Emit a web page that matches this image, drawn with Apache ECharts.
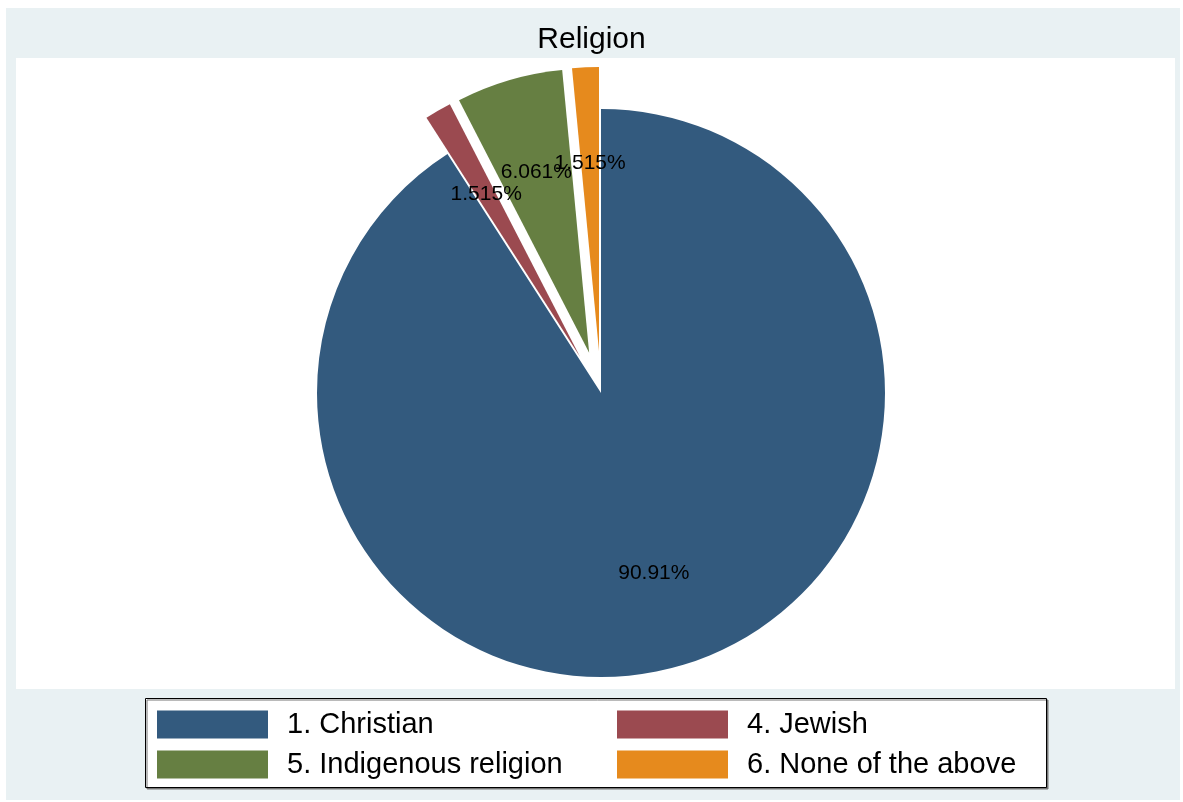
<!DOCTYPE html>
<html>
<head>
<meta charset="utf-8">
<script src="https://cdn.jsdelivr.net/npm/echarts@6/dist/echarts.min.js"></script>
<style>
  html, body { margin: 0; padding: 0; background: #fff; }
  #chart { width: 1183px; height: 802px; }
</style>
</head>
<body>
<div id="chart"></div>
<script>
var categories = ['1. Christian', '4. Jewish', '5. Indigenous religion', '6. None of the above'];
var counts = [60, 1, 4, 1];
var pctLabels = ['90.91%', '1.515%', '6.061%', '1.515%'];
var exploded = [false, true, true, true];
var colors = ['#335a7e', '#9b4a50', '#667f42', '#e68a1d'];

var R = 284;
var font = 'Liberation Sans, Arial, sans-serif';

var pieData = categories.map(function (name, i) {
    return {
        name: name,
        value: counts[i],
        selected: exploded[i],
        itemStyle: { color: colors[i] }
    };
});

// invisible ring carrying the percent labels at ~0.65 of the radius
var labelData = categories.map(function (name, i) {
    return {
        name: name,
        value: counts[i],
        selected: exploded[i],
        label: { formatter: pctLabels[i] }
    };
});

function legendData(idx) {
    return idx.map(function (i) {
        return { name: categories[i], itemStyle: { color: colors[i] } };
    });
}

var legendBase = {
    orient: 'vertical',
    top: 710,
    padding: 0,
    itemWidth: 111,
    itemHeight: 28,
    itemGap: 11,
    icon: 'rect',
    selectedMode: false,
    textStyle: {
        fontFamily: font,
        fontSize: 29,
        color: '#000',
        lineHeight: 28,
        padding: [0, 0, 0, 14]
    }
};

var myChart = echarts.init(document.getElementById('chart'));
option = {
    animation: false,
    backgroundColor: '#fff',
    graphic: [
        {
            type: 'rect', z: -10, silent: true,
            shape: { x: 6, y: 8, width: 1174, height: 792 },
            style: { fill: '#e9f1f3' }
        },
        {
            type: 'rect', z: -9, silent: true,
            shape: { x: 16, y: 58, width: 1159, height: 631 },
            style: { fill: '#fff' }
        },
        {
            type: 'rect', z: -8, silent: true,
            shape: { x: 145.5, y: 698.5, width: 901, height: 89 },
            style: {
                fill: '#fff', stroke: '#000', lineWidth: 1,
                shadowColor: '#777', shadowOffsetX: 1.5, shadowOffsetY: 1.5, shadowBlur: 0
            }
        }
    ],
    title: {
        text: 'Religion',
        left: 'center',
        top: 20,
        textStyle: { fontFamily: font, fontSize: 30, fontWeight: 'normal', color: '#000' }
    },
    legend: [
        Object.assign({}, legendBase, { left: 157, data: legendData([0, 2]) }),
        Object.assign({}, legendBase, { left: 617, data: legendData([1, 3]) })
    ],
    series: [
        {
            name: 'Religion',
            type: 'pie',
            center: [601, 393],
            radius: [0, R],
            startAngle: 90,
            clockwise: true,
            selectedMode: 'multiple',
            selectedOffset: 42,
            avoidLabelOverlap: false,
            label: { show: false },
            labelLine: { show: false },
            emphasis: { disabled: true },
            silent: true,
            data: pieData
        },
        {
            name: 'labels',
            type: 'pie',
            center: [601, 393],
            radius: [R * 0.3, R],
            startAngle: 90,
            clockwise: true,
            selectedMode: 'multiple',
            selectedOffset: 42,
            avoidLabelOverlap: false,
            minShowLabelAngle: 0,
            itemStyle: { color: 'rgba(0,0,0,0)' },
            label: {
                show: true,
                position: 'inside',
                overflow: 'none',
                fontFamily: font,
                fontSize: 21,
                color: '#000'
            },
            labelLayout: { hideOverlap: false },
            labelLine: { show: false },
            emphasis: { disabled: true },
            silent: true,
            data: labelData
        }
    ]
};
myChart.setOption(option);
</script>
</body>
</html>
